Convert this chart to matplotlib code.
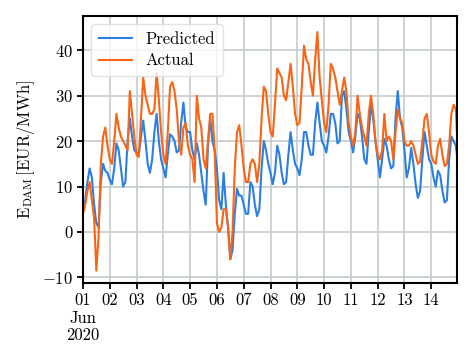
import numpy as np
import matplotlib
matplotlib.use("Agg")
import matplotlib.pyplot as plt

plt.rcParams['font.family'] = 'serif'
plt.rcParams['font.serif'] = ['cmr10', 'DejaVu Serif']
plt.rcParams['mathtext.fontset'] = 'cm'
plt.rcParams['axes.formatter.use_mathtext'] = True

# 2-hourly samples (hours 0,2,...,22) for 1-14 June 2020, plus final point at 23:00
hours = list(range(0, 14 * 24, 2)) + [14 * 24 - 1]

actual = [
    4, 6, 9, 11, 7, 3, -8.5, -1, 15, 21, 23, 19,
    16, 15, 20, 26, 23, 21, 20, 19, 18, 31, 26, 21,
    17, 16.5, 25, 34, 30, 28, 26, 26, 27, 35, 29, 22,
    17, 15, 22, 32, 33, 31, 27, 20, 17, 23, 24, 19,
    17, 16, 11, 30, 25, 23, 16, 14, 20, 26, 26, 18,
    2, 0, 1, 5, 5, 1, -6, 0, 14, 22, 23.5, 19,
    14, 11, 11, 15, 16, 15, 11, 15, 25, 32, 31, 26,
    22, 21, 28, 36, 35, 34, 30, 29, 33, 37, 32, 26,
    23.5, 24, 32, 41, 38, 37, 33, 30, 38, 44, 34, 29,
    24, 22, 28, 37, 36, 34, 31, 28, 31, 34, 31, 24,
    21, 19, 22, 30, 26, 23, 21, 19, 26, 30, 26, 20,
    17, 16, 18, 26, 20, 21, 20, 16, 22, 27, 25, 24,
    20, 19, 19, 20, 19, 17, 15, 15.5, 20, 25, 26, 22,
    17, 15.5, 15, 19, 20.5, 17, 14.5, 15, 19, 26, 28, 27,
    22,
]

predicted = [
    5, 7, 11, 14, 12, 6, 2, 1, 11, 15, 13.5, 13,
    11.5, 10.5, 14, 19.5, 18, 14, 10, 11, 20, 25, 21, 18,
    17.5, 17, 21, 24.5, 20, 15, 13, 16, 22, 26, 20, 16,
    14, 12, 17, 21.5, 21, 20, 17.5, 18, 24, 28.5, 23, 22,
    22, 18, 16, 19.5, 17, 13, 9, 6, 19, 25, 20, 18,
    14, 7, 5, 13, 6, 1, -6, -4, 4, 9.5, 8, 8,
    6, 4, 4, 11, 10, 6, 3.5, 5, 14, 20, 18, 15,
    13, 10.5, 13, 19, 17, 13, 10.5, 11, 17, 22, 18, 15,
    14, 12.5, 16, 22, 22, 19, 17, 17, 24, 28.5, 24, 20,
    19, 17.5, 21, 26, 26, 24, 19.5, 20, 30, 31, 27, 22,
    20, 17.5, 21, 26, 25, 21, 16, 15, 22, 28, 25, 20,
    16, 12, 16, 20.5, 19, 16, 14, 14.5, 25, 31, 25, 23,
    18, 12, 14, 18.5, 15, 10.5, 7.5, 9, 16, 22, 19, 16,
    15, 12, 10, 13.5, 12.5, 9, 6.5, 7, 16, 21, 20, 19,
    17,
]

day_ticks = list(range(0, 14 * 24, 24))
day_labels = ['01\nJun\n2020', '02', '03', '04', '05', '06', '07',
              '08', '09', '10', '11', '12', '13', '14']

fig = plt.figure(figsize=(4.74, 3.59), dpi=100)
ax = fig.add_axes([0.175, 0.212, 0.789, 0.743])

t = np.array(hours) / 24.0
ax.plot(t, predicted, color='#2b7fe3', lw=1.5, label='Predicted')
ax.plot(t, actual, color='#fa6414', lw=1.5, label='Actual')

ax.set_xlim(0, (14 * 24 - 1) / 24.0)
ax.set_ylim(-11.2, 47.5)
ax.set_xticks(np.array(day_ticks) / 24.0)
ax.set_xticklabels(day_labels)
ax.set_yticks([-10, 0, 10, 20, 30, 40])
ax.grid(True, color='#c5cccc', lw=1.2)
ax.set_axisbelow(True)
for s in ax.spines.values():
    s.set_linewidth(1.5)
ax.tick_params(labelsize=12, width=1.3, length=4, pad=3)
ax.set_ylabel(r'$\mathrm{E}_{\mathrm{DAM}}\,[\mathrm{EUR/MWh}]$', fontsize=12)
ax.legend(loc='upper left', fontsize=12, framealpha=0.8, edgecolor='#dddddd',
          handlelength=2.0, borderpad=0.45, labelspacing=0.35)

fig.savefig('out.png', dpi=100)
